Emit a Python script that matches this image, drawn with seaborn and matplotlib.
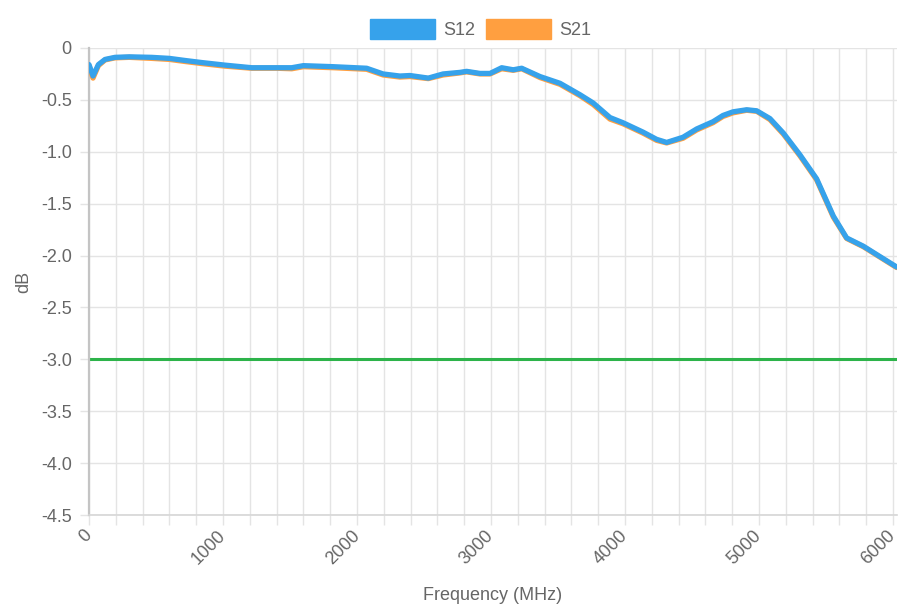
import numpy as np
import pandas as pd
import matplotlib
matplotlib.use("Agg")
import matplotlib.pyplot as plt
from matplotlib.patches import Patch
import seaborn as sns

# ---- data ----
freq = [0, 30, 70, 120, 194, 300, 468, 600, 716, 841, 1015, 1214, 1400, 1513,
        1600, 1823, 2072, 2195, 2320, 2395, 2532, 2642, 2768, 2818, 2918, 2993,
        3080, 3166, 3229, 3366, 3515, 3664, 3763, 3888, 3985, 4134, 4236, 4311,
        4433, 4535, 4657, 4731, 4806, 4908, 4983, 5082, 5182, 5306, 5430, 5555,
        5654, 5779, 5878, 6027]
s12 = [-0.16, -0.27, -0.16, -0.11, -0.09, -0.085, -0.09, -0.10, -0.12, -0.14,
       -0.165, -0.19, -0.19, -0.19, -0.17, -0.18, -0.195, -0.25, -0.27, -0.265,
       -0.29, -0.25, -0.235, -0.225, -0.245, -0.245, -0.19, -0.21, -0.195,
       -0.275, -0.34, -0.45, -0.53, -0.67, -0.72, -0.81, -0.88, -0.91, -0.86,
       -0.78, -0.71, -0.65, -0.615, -0.595, -0.605, -0.68, -0.82, -1.03, -1.26,
       -1.62, -1.83, -1.91, -1.99, -2.11]
s21 = [-0.17, -0.29, -0.17, -0.115, -0.095, -0.09, -0.10, -0.11, -0.13, -0.15,
       -0.175, -0.195, -0.195, -0.20, -0.18, -0.19, -0.205, -0.26, -0.28, -0.275,
       -0.295, -0.26, -0.24, -0.23, -0.25, -0.25, -0.20, -0.215, -0.20,
       -0.285, -0.35, -0.46, -0.545, -0.685, -0.73, -0.82, -0.89, -0.915, -0.87,
       -0.79, -0.72, -0.66, -0.625, -0.60, -0.61, -0.69, -0.83, -1.04, -1.27,
       -1.63, -1.835, -1.915, -1.995, -2.115]
threshold = -3.0
series_names = ["S12", "S21"]
series_colors = ["#36A2EB", "#FF9F40"]
x_ticks = list(range(0, 6001, 200))
x_labels = [str(v) if v % 1000 == 0 else "" for v in x_ticks]
y_ticks = [0, -0.5, -1.0, -1.5, -2.0, -2.5, -3.0, -3.5, -4.0, -4.5]
y_labels = ["0", "-0.5", "-1.0", "-1.5", "-2.0", "-2.5", "-3.0", "-3.5", "-4.0", "-4.5"]

df = pd.DataFrame({"freq": freq, "S12": s12, "S21": s21})

sns.set_theme(style="white")
plt.rcParams["font.family"] = ["Liberation Sans", "DejaVu Sans"]

fig = plt.figure(figsize=(8.98, 6.12), dpi=100)
ax = fig.add_axes([89 / 898, 1 - 515 / 612, (897 - 89) / 898, (515 - 48) / 612])

grid_c = "#e4e4e4"
text_c = "#666666"

sns.lineplot(data=df, x="freq", y="S21", ax=ax, color=series_colors[1],
             linewidth=3.8, zorder=3, solid_capstyle="round", solid_joinstyle="round")
sns.lineplot(data=df, x="freq", y="S12", ax=ax, color=series_colors[0],
             linewidth=3.8, zorder=4, solid_capstyle="round", solid_joinstyle="round")
ax.axhline(threshold, color="#2db34a", linewidth=2.2, zorder=2)

ax.set_xlim(0, 6030)
ax.set_ylim(-4.5, 0)
ax.set_xticks(x_ticks)
ax.set_xticklabels(x_labels, rotation=45, ha="right", va="center", rotation_mode="anchor")
ax.set_yticks(y_ticks)
ax.set_yticklabels(y_labels)

ax.grid(True, color=grid_c, linewidth=1.0, zorder=0)
ax.set_axisbelow(True)
for s in ["top", "right"]:
    ax.spines[s].set_visible(False)
ax.spines["left"].set_color("#c4c4c4")
ax.spines["left"].set_linewidth(1.6)
ax.spines["bottom"].set_color("#d6d6d6")
ax.spines["bottom"].set_linewidth(1.2)

ax.tick_params(axis="x", length=7, width=1.0, color=grid_c, pad=6,
               labelsize=13, labelcolor=text_c, bottom=True)
ax.tick_params(axis="y", length=6.5, width=1.0, color=grid_c, pad=6,
               labelsize=13, labelcolor=text_c, left=True)

ax.set_xlabel("Frequency (MHz)", fontsize=13, color=text_c, labelpad=14)
ax.set_ylabel("dB", fontsize=13, color=text_c, labelpad=6)

handles = [Patch(facecolor=c, edgecolor=c, label=n) for n, c in zip(series_names, series_colors)]
fig.legend(handles=handles, loc="upper center", bbox_to_anchor=(0.535, 0.995),
           ncol=2, frameon=False, fontsize=13, labelcolor=text_c,
           handlelength=3.6, handleheight=1.3, handletextpad=0.45, columnspacing=0.6)

fig.savefig("out.png", dpi=100)
